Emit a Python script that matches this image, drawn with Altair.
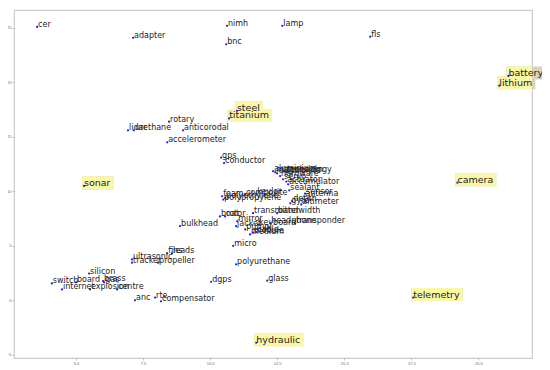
import altair as alt
import pandas as pd

words = ["cer", "adapter", "nimh", "bnc", "lamp", "fls", "battery", "lithium",
         "steel", "titanium", "rotary", "lidar", "urethane", "anticorodal",
         "accelerometer", "gps", "conductor", "sonar", "camera",
         "aluminium", "magnesium", "electrolyte", "technology", "hardware",
         "servo", "actuator", "accumulator", "sealant", "sensor", "antenna",
         "depth", "gyro", "altimeter", "foam", "polypropylene", "polyethylene",
         "composite", "kevlar", "transmitter", "bandwidth", "boat", "rotor",
         "mirror", "jacket", "keyboard", "headphone", "transponder", "pump",
         "cable", "module", "medium", "bulkhead", "micro", "polyurethane",
         "glass", "dgps", "fins", "leads", "ultrasonic", "tracker", "propeller",
         "silicon", "switch", "board", "internet", "explosion", "brass", "gas",
         "centre", "anc", "rte", "compensator", "telemetry", "hydraulic"]

xs = [3.55, 7.13, 10.63, 10.60, 12.69, 15.97, 21.12, 20.78,
      11.00, 10.71, 8.47, 6.94, 7.16, 8.99,
      8.40, 10.41, 10.52, 5.30, 19.22,
      12.35, 12.43, 12.50, 12.84, 12.61,
      12.72, 12.84, 12.91, 12.95, 13.54, 13.51,
      13.06, 12.99, 13.40, 10.45, 10.49, 10.56,
      11.30, 11.72, 11.60, 12.50, 10.37, 10.56,
      11.01, 10.97, 11.79, 12.24, 13.17, 11.31,
      11.72, 11.60, 11.49, 8.88, 10.86, 10.97,
      12.13, 10.04, 8.40, 8.58, 7.09, 7.09, 8.06,
      5.49, 4.10, 5.00, 4.48, 5.52, 6.01, 6.05,
      6.53, 7.20, 7.95, 8.17, 17.57, 11.72]

ys = [25.1, 24.1, 25.2, 23.5, 25.2, 24.2, 20.6, 19.7,
      17.4, 16.7, 16.4, 15.6, 15.6, 15.6,
      14.5, 13.1, 12.6, 10.5, 10.8,
      11.85, 11.75, 11.65, 11.75, 11.4,
      11.1, 10.9, 10.65, 10.1, 9.8, 9.55,
      9.1, 8.9, 8.8, 9.55, 9.25, 9.4,
      9.7, 9.8, 8.0, 8.0, 7.7, 7.7,
      7.25, 6.8, 6.95, 7.05, 7.05, 6.5,
      6.25, 6.2, 6.05, 6.8, 5.0, 3.3,
      1.8, 1.7, 4.3, 4.3, 3.75, 3.45, 3.45,
      2.45, 1.55, 1.65, 1.0, 1.0, 1.75, 1.65,
      1.0, 0.0, 0.25, -0.1, 0.25, -3.9]

highlighted = ["battery", "lithium", "steel", "titanium", "sonar", "camera",
               "telemetry", "hydraulic"]

x_ticks = [5.0, 7.5, 10.0, 12.5, 15.0, 17.5, 20.0]
y_ticks = [-5, 0, 5, 10, 15, 20, 25]

# approximate DejaVu Sans advance widths (em) for box sizing
CW = dict(a=.613, b=.635, c=.55, d=.635, e=.615, f=.352, g=.635, h=.634, i=.278,
          j=.278, k=.579, l=.278, m=.974, n=.634, o=.612, p=.635, q=.635, r=.411,
          s=.521, t=.392, u=.634, v=.592, w=.818, x=.592, y=.592, z=.525)
HL_FONT = 9.5
X_DOM = [2.69, 22.0]
W = 518
PX_PER_UNIT = W / (X_DOM[1] - X_DOM[0])


def text_units(word):
    px = sum(CW.get(ch, 0.6) for ch in word) * HL_FONT
    return (px + 1) / PX_PER_UNIT


df = pd.DataFrame({"word": words, "x": xs, "y": ys})
df["hl"] = df["word"].isin(highlighted)
df["x2"] = [x + text_units(w) for x, w in zip(df["x"], df["word"])]

xscale = alt.Scale(domain=X_DOM, nice=False, zero=False)
yscale = alt.Scale(domain=[-5.3, 26.65], nice=False, zero=False)

xaxis = alt.Axis(values=x_ticks, format=".1f", labelFontSize=4, tickSize=2,
                 labelPadding=1, grid=False, domain=False, title=None,
                 labelColor="#666", tickColor="#999", tickWidth=0.6)
yaxis = alt.Axis(values=y_ticks, format="d", labelFontSize=4, tickSize=2,
                 labelPadding=1, grid=False, domain=False, title=None,
                 labelColor="#666", tickColor="#999", tickWidth=0.6)

base = alt.Chart(df)

hl_data = base.transform_filter("datum.hl")

box_back = hl_data.mark_rect(color="#d5d3b8", xOffset=-2, x2Offset=2,
                             yOffset=3.5, y2Offset=-9.5).encode(
    x=alt.X("x:Q", scale=xscale, axis=xaxis),
    x2="x2:Q",
    y=alt.Y("y:Q", scale=yscale, axis=yaxis),
    y2="y:Q",
)

box_front = hl_data.mark_rect(color="#fbf7a8", clip=True, xOffset=-2, x2Offset=2,
                              yOffset=3.5, y2Offset=-9.5).encode(
    x=alt.X("x:Q", scale=xscale, axis=xaxis),
    x2="x2:Q",
    y=alt.Y("y:Q", scale=yscale, axis=yaxis),
    y2="y:Q",
)

points = base.mark_circle(size=5, color="#2020dd", opacity=1).encode(
    x=alt.X("x:Q", scale=xscale, axis=xaxis),
    y=alt.Y("y:Q", scale=yscale, axis=yaxis),
)

labels = base.transform_filter("!datum.hl").mark_text(
    align="left", baseline="alphabetic", dx=1, fontSize=8,
    font="DejaVu Sans", color="#222222").encode(
    x=alt.X("x:Q", scale=xscale, axis=xaxis),
    y=alt.Y("y:Q", scale=yscale, axis=yaxis),
    text="word:N",
)

hl_labels = hl_data.mark_text(
    align="left", baseline="alphabetic", dx=0, fontSize=HL_FONT,
    font="DejaVu Sans", color="#222222").encode(
    x=alt.X("x:Q", scale=xscale, axis=xaxis),
    y=alt.Y("y:Q", scale=yscale, axis=yaxis),
    text="word:N",
)

chart = alt.layer(box_back, box_front, points, labels, hl_labels).properties(
    width=W, height=348,
    autosize="none",
    padding={"left": 6, "top": 2, "right": 10, "bottom": 12},
    background="white",
).configure_view(stroke="#cccccc", strokeWidth=1.2)

chart.save("out.html", embed_options={"renderer": "svg", "actions": False})
